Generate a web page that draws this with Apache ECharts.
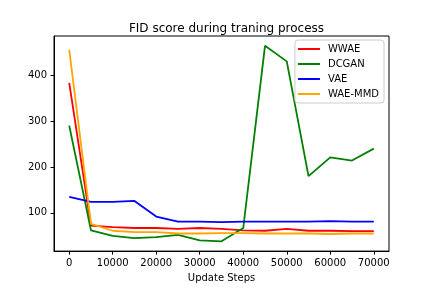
<!DOCTYPE html>
<html><head><meta charset="utf-8">
<script src="https://cdn.jsdelivr.net/npm/echarts@6/dist/echarts.min.js"></script>
<style>html,body{margin:0;padding:0;background:#fff}#c{width:432px;height:288px}</style>
</head><body><div id="c"></div>
<script>
const steps = [0,5000,10000,15000,20000,25000,30000,35000,40000,45000,50000,55000,60000,65000,70000];
const wwae   = [383,72,69,67,67,65,67,65,62,61,65,61,61,60,60];
const dcgan  = [290,62,50,45,47,52,40,38,67,464,430,180,221,214,240];
const vae    = [135,124,124,126,92,81,81,80,81,81,81,81,82,81,81];
const waemmd = [455,76,61,58,58,55,55,56,56,55,55,55,54,55,55];
const xTicks = [0,10000,20000,30000,40000,50000,60000,70000];
const yTicks = [100,200,300,400];
const names = ['WWAE','DCGAN','VAE','WAE-MMD'];
const colors = ['#ff0000','#008000','#0000ff','#ffa500'];
const values = [wwae,dcgan,vae,waemmd];
const font = 'DejaVu Sans';
const chart = echarts.init(document.getElementById('c'), null, {renderer:'canvas'});
chart.setOption({
  animation:false,
  title:{text:'FID score during traning process', left:221.5, textAlign:'center', top:18,
    textStyle:{fontFamily:font, fontSize:12, fontWeight:'normal', color:'#000'}},
  grid:{left:54, right:43, top:36, bottom:36, show:true, borderColor:'#000', borderWidth:1, backgroundColor:'#fff'},
  legend:{orient:'vertical', right:48, top:40, data:names, icon:'rect', itemWidth:22, itemHeight:2,
    itemGap:3, padding:[3,5,3,3], backgroundColor:'rgba(255,255,255,0.8)', borderColor:'#cccccc',
    borderWidth:1, borderRadius:3,
    textStyle:{fontFamily:font, fontSize:10, lineHeight:12, color:'#000', padding:[0,0,0,3]}},
  xAxis:{type:'value', min:-3500, max:73500, name:'Update Steps', nameLocation:'middle', nameGap:19,
    nameTextStyle:{fontFamily:font, fontSize:10, color:'#000'},
    axisLine:{show:true, onZero:false, lineStyle:{color:'#000', width:1}},
    axisTick:{show:true, length:3.5, customValues:xTicks, lineStyle:{color:'#000'}},
    axisLabel:{customValues:xTicks, margin:7, fontFamily:font, fontSize:10, color:'#000',
      formatter:v=>String(v)},
    splitLine:{show:false}},
  yAxis:{type:'value', min:16.7, max:485.3,
    axisLine:{show:true, onZero:false, lineStyle:{color:'#000', width:1}},
    axisTick:{show:true, length:3.5, customValues:yTicks, lineStyle:{color:'#000'}},
    axisLabel:{customValues:yTicks, margin:7, fontFamily:font, fontSize:10, color:'#000',
      formatter:v=>String(v)},
    splitLine:{show:false}},
  series: names.map((n,i)=>({name:n, type:'line', data:steps.map((s,j)=>[s,values[i][j]]),
    showSymbol:false, symbol:'none', color:colors[i], lineStyle:{color:colors[i], width:1.8}}))
});
</script></body></html>
